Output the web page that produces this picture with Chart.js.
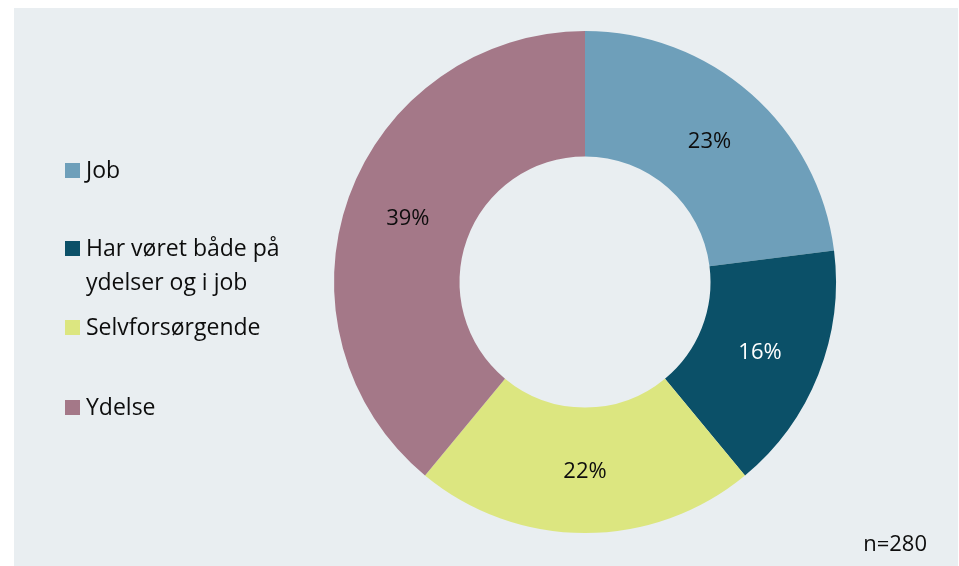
<!DOCTYPE html>
<html>
<head>
<meta charset="utf-8">
<script src="https://cdn.jsdelivr.net/npm/chart.js@4.4.1/dist/chart.umd.min.js"></script>
<style>
html,body{margin:0;padding:0;background:#fff;}
#wrap{position:absolute;left:0;top:0;width:959px;height:566px;}
</style>
</head>
<body>
<div id="wrap"><canvas id="c" width="959" height="566"></canvas></div>
<script>
const categories = ["Job", "Har vøret både på ydelser og i job", "Selvforsørgende", "Ydelse"];
const legendLines = [["Job"], ["Har vøret både på", "ydelser og i job"], ["Selvforsørgende"], ["Ydelse"]];
const shares = [23, 16, 22, 39];
const colors = ["#6E9FBA", "#0B5068", "#DCE680", "#A47888"];
const labelColors = ["#0d0d0d", "#ffffff", "#0d0d0d", "#0d0d0d"];
const note = "n=280";

const FONT = "'Open Sans', Lato, sans-serif";

const panelPlugin = {
  id: "panel",
  beforeDraw(chart) {
    const ctx = chart.ctx;
    ctx.save();
    ctx.fillStyle = "#ffffff";
    ctx.fillRect(0, 0, chart.width, chart.height);
    ctx.fillStyle = "#E9EEF1";
    ctx.fillRect(14, 8, 944, 558);
    ctx.restore();
  }
};

const labelPlugin = {
  id: "sliceLabels",
  afterDatasetsDraw(chart) {
    const ctx = chart.ctx;
    const meta = chart.getDatasetMeta(0);
    ctx.save();
    ctx.font = "22px " + FONT;
    ctx.textAlign = "center";
    ctx.textBaseline = "middle";
    meta.data.forEach((arc, i) => {
      const p = arc.getCenterPoint();
      ctx.fillStyle = labelColors[i];
      ctx.fillText(shares[i] + "%", p.x, p.y + 1);
    });
    ctx.restore();
  }
};

const legendPlugin = {
  id: "sideLegend",
  afterDraw(chart) {
    const ctx = chart.ctx;
    const rows = [170, 248, 327, 407];
    ctx.save();
    ctx.font = "23px " + FONT;
    ctx.textAlign = "left";
    ctx.textBaseline = "middle";
    legendLines.forEach((lines, i) => {
      const y = rows[i];
      ctx.fillStyle = colors[i];
      ctx.fillRect(65, y - 7, 15, 15);
      ctx.fillStyle = "#0d0d0d";
      lines.forEach((t, j) => ctx.fillText(t, 86, y + 1 + j * 34));
    });
    ctx.font = "22px " + FONT;
    ctx.textAlign = "right";
    ctx.fillText(note, 927, 545);
    ctx.restore();
  }
};

new Chart(document.getElementById("c"), {
  type: "doughnut",
  data: {
    labels: categories,
    datasets: [{
      data: shares,
      backgroundColor: colors,
      borderWidth: 0,
      hoverOffset: 0,
      offset: 0
    }]
  },
  options: {
    responsive: false,
    animation: false,
    cutout: "50%",
    layout: { padding: { left: 334, top: 31, right: 123, bottom: 33 } },
    plugins: { legend: { display: false }, tooltip: { enabled: false } }
  },
  plugins: [panelPlugin, labelPlugin, legendPlugin]
});
</script>
</body>
</html>
